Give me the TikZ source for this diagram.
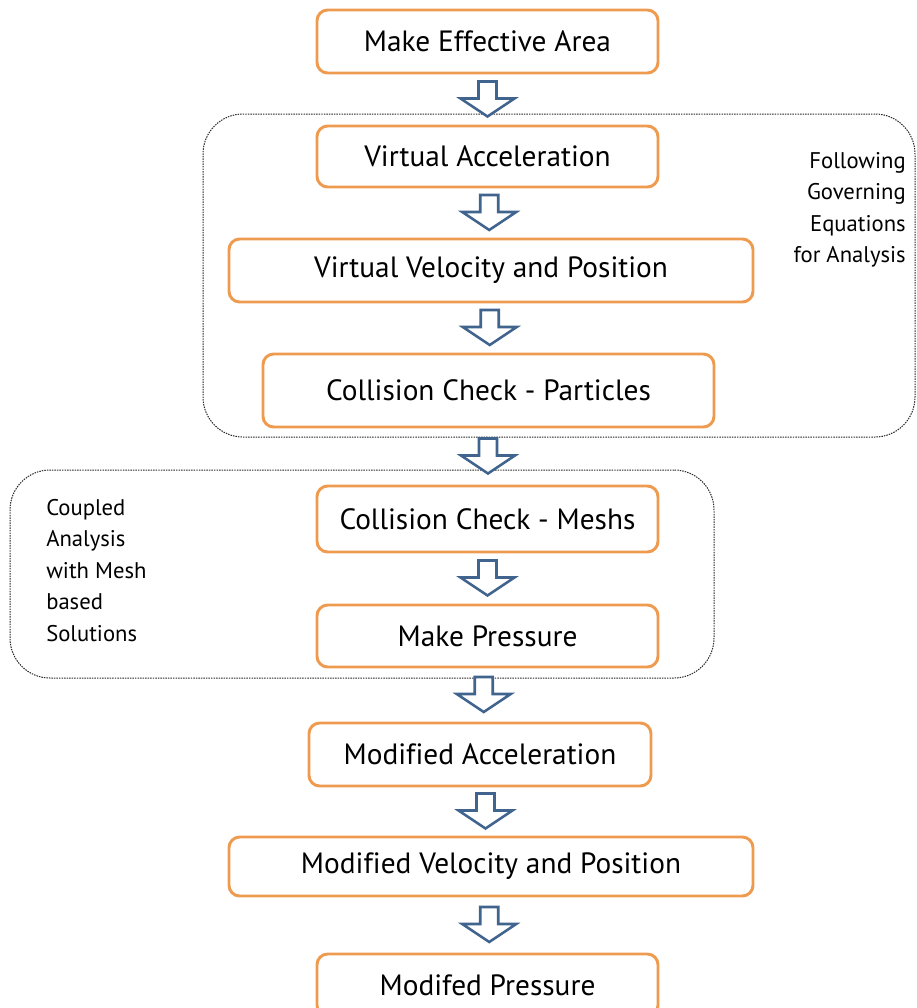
\documentclass[tikz,border=0pt]{standalone}
\usepackage{fontspec}
\setmainfont[Ligatures=NoCommon]{PT Sans}
\usetikzlibrary{calc}
\definecolor{boxorange}{HTML}{EE9B50}
\definecolor{arrowblue}{HTML}{41648F}
\newcommand{\blkarrow}[2]{%
  \draw[blk, shift={($(#1.south)!0.5!(#2.north)$)}]
    (-9,-18) -- (9,-18) -- (9,-1) -- (27,-1) -- (0,17) -- (-27,-1) -- (-9,-1) -- cycle;}
\begin{document}
\begin{tikzpicture}[x=0.75pt,y=-0.75pt,
  stepbox/.style={draw=boxorange, line width=2.2pt, rounded corners=8pt, fill=white,
    inner sep=0pt, font=\fontsize{22}{26}\selectfont},
  region/.style={draw=black!85, dash pattern=on 1.1pt off 0.8pt, line width=0.75pt, rounded corners=30pt},
  blk/.style={draw=arrowblue, line width=1.9pt, fill=white, line join=miter},
  side/.style={font=\fontsize{17}{23.6}\selectfont, inner sep=0pt}]
\useasboundingbox (0,0) rectangle (917,1008);
% grouping frames
\node[region, minimum width=534pt, minimum height=242.25pt] (r1) at (559,275.5) {};
\node[region, minimum width=528pt, minimum height=156pt] (r2) at (362,574) {};
% steps
\node[stepbox, minimum width=255.75pt, minimum height=47.25pt] (b1) at (487.5,41.5) {Make Effective Area};
\node[stepbox, minimum width=255.75pt, minimum height=45.75pt] (b2) at (487.5,156.5) {Virtual Acceleration};
\node[stepbox, minimum width=393pt, minimum height=47.25pt] (b3) at (491,270.5) {Virtual Velocity and Position};
\node[stepbox, minimum width=338.25pt, minimum height=54.75pt] (b4) at (488.5,390.5) {Collision Check - Particles};
\node[stepbox, minimum width=255.75pt, minimum height=49.5pt] (b5) at (487.5,519) {Collision Check - Meshs};
\node[stepbox, minimum width=255.75pt, minimum height=46.5pt] (b6) at (487.5,636) {Make Pressure};
\node[stepbox, minimum width=256.5pt, minimum height=47.25pt] (b7) at (480,754.5) {Modified Acceleration};
\node[stepbox, minimum width=393pt, minimum height=44.25pt] (b8) at (491,866.5) {Modified Velocity and Position};
\node[stepbox, minimum width=255.75pt, minimum height=46.5pt] (b9) at (487.5,985) {Modifed Pressure};
% side notes
\node[side, align=right, anchor=north east] (t1) at (906,152) {Following\\Governing\\Equations\\for Analysis};
\node[side, align=left, anchor=north west] (t2) at (46,499) {Coupled\\Analysis\\with Mesh\\based\\Solutions};
% block arrows
\blkarrow{b1}{b2}
\blkarrow{b2}{b3}
\blkarrow{b3}{b4}
\blkarrow{b4}{b5}
\blkarrow{b5}{b6}
\blkarrow{b6}{b7}
\blkarrow{b7}{b8}
\blkarrow{b8}{b9}
\end{tikzpicture}
\end{document}
